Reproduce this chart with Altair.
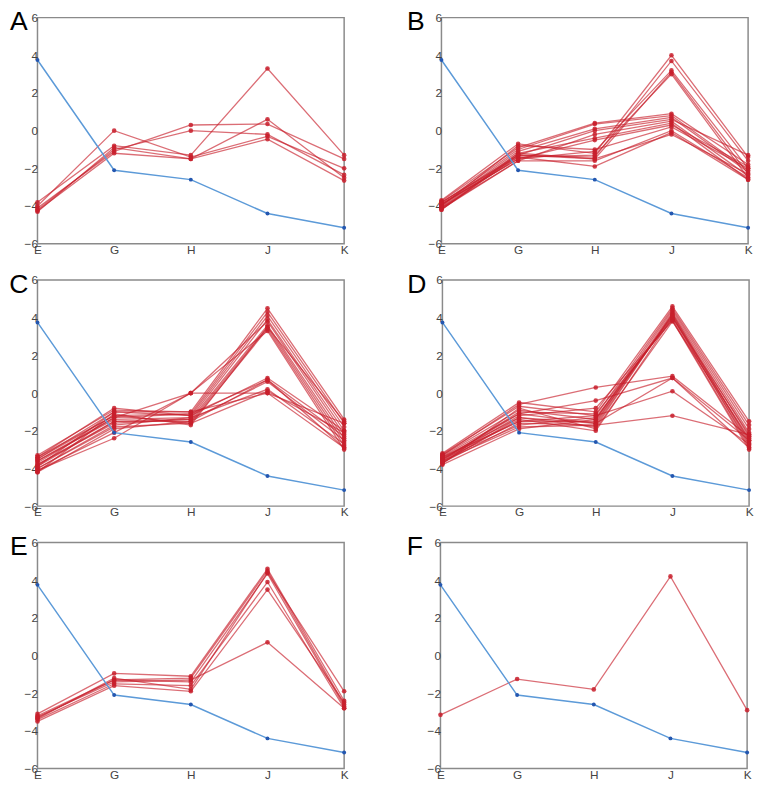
import altair as alt
import pandas as pd

cats = ["E", "G", "H", "J", "K"]
blue = [3.75, -2.1, -2.6, -4.4, -5.15]

panel_A = [
    [-3.8, -0.8, -1.3, 3.3, -1.3],
    [-4.0, 0.0, -1.4, -0.3, -2.0],
    [-4.1, -1.1, 0.3, 0.35, -1.5],
    [-4.2, -1.0, 0.0, -0.2, -2.35],
    [-4.3, -0.9, -1.5, 0.6, -2.5],
    [-4.25, -1.2, -1.5, -0.45, -2.65],
]
panel_B = [
    [-3.7, -0.7, -1.2, 4.0, -1.4],
    [-3.8, -1.3, -1.4, 3.7, -1.6],
    [-3.9, -1.5, -1.1, 3.2, -2.0],
    [-4.0, -1.2, -1.5, 3.1, -2.3],
    [-4.1, -1.4, -1.3, 3.0, -2.5],
    [-3.75, -0.9, 0.4, 0.9, -1.8],
    [-3.85, -1.0, 0.35, 0.8, -2.1],
    [-3.95, -1.1, 0.1, 0.7, -2.2],
    [-4.05, -1.3, 0.0, 0.6, -1.3],
    [-4.15, -1.6, -0.2, 0.5, -2.4],
    [-4.2, -1.2, -0.4, 0.4, -2.6],
    [-3.9, -1.5, -0.5, 0.3, -1.9],
    [-4.0, -0.8, -1.0, 0.2, -2.0],
    [-4.1, -1.6, -1.6, 0.0, -2.5],
    [-3.8, -1.4, -1.9, -0.1, -2.6],
    [-4.2, -1.3, -1.5, -0.2, -2.3],
]
panel_C = [
    [-3.3, -0.9, -1.0, 4.5, -1.4],
    [-3.4, -1.2, -1.1, 4.3, -1.6],
    [-3.5, -1.0, -1.2, 4.1, -1.8],
    [-3.6, -1.4, -1.3, 3.9, -2.0],
    [-3.7, -1.3, 0.0, 3.8, -2.2],
    [-3.8, -1.6, -1.4, 3.6, -2.4],
    [-3.9, -1.5, -1.5, 3.5, -2.6],
    [-4.0, -1.8, -1.6, 3.4, -2.8],
    [-4.1, -2.4, 0.0, 3.3, -3.0],
    [-4.2, -1.1, -1.7, 3.5, -1.5],
    [-3.4, -0.8, -1.2, 0.8, -2.0],
    [-3.6, -1.3, -1.1, 0.7, -2.3],
    [-3.8, -1.5, -1.4, 0.6, -2.5],
    [-4.0, -1.7, -1.3, 0.2, -2.7],
    [-4.1, -2.1, 0.0, 0.0, -2.9],
    [-3.5, -1.2, -1.6, 0.1, -2.1],
    [-3.9, -1.0, -1.0, 0.0, -1.6],
    [-4.2, -1.9, -1.5, 0.7, -2.9],
]
panel_D = [
    [-3.2, -0.5, -1.0, 4.6, -1.5],
    [-3.25, -0.7, -1.2, 4.5, -1.7],
    [-3.3, -0.9, -1.4, 4.4, -1.9],
    [-3.35, -1.1, -1.6, 4.3, -2.1],
    [-3.4, -1.3, -1.8, 4.2, -2.3],
    [-3.45, -1.5, -1.5, 4.1, -2.5],
    [-3.5, -1.7, -1.3, 4.0, -2.7],
    [-3.55, -1.0, -1.1, 3.9, -2.9],
    [-3.6, -1.2, -0.8, 3.85, -3.0],
    [-3.65, -1.4, -2.0, 4.0, -2.2],
    [-3.7, -1.6, -1.7, 4.2, -2.6],
    [-3.75, -0.8, -1.9, 3.8, -2.4],
    [-3.8, -1.9, -1.4, 4.1, -2.8],
    [-3.3, -0.6, 0.3, 0.9, -2.3],
    [-3.5, -1.1, -0.4, 0.8, -2.9],
    [-3.7, -1.3, -1.6, 0.8, -2.5],
    [-3.4, -1.5, -1.2, 0.1, -2.7],
    [-3.6, -1.8, -1.7, -1.2, -2.2],
]
panel_E = [
    [-3.1, -0.95, -1.1, 4.6, -2.4],
    [-3.2, -1.3, -1.2, 4.5, -2.6],
    [-3.3, -1.3, -1.4, 4.35, -2.7],
    [-3.4, -1.5, -1.6, 3.9, -2.8],
    [-3.5, -1.6, -1.9, 3.5, -2.5],
    [-3.35, -1.2, -1.8, 4.4, -1.9],
    [-3.25, -1.4, -1.3, 0.7, -2.8],
]
panel_F = [
    [-3.15, -1.25, -1.8, 4.2, -2.9],
]

panels = [("A", panel_A), ("B", panel_B), ("C", panel_C),
          ("D", panel_D), ("E", panel_E), ("F", panel_F)]

RED = "#c81e2b"
BLUE_LINE = "#5c9ad8"
BLUE_PT = "#2457b0"

x_enc = alt.X("cat:O", sort=cats,
              scale=alt.Scale(type="point", padding=0, domain=cats),
              axis=alt.Axis(title=None, labelAngle=0, ticks=False, domain=False,
                            labelColor="#444", labelFontSize=12, labelPadding=1,
                            labelFont="Liberation Sans"))
y_enc = alt.Y("val:Q", scale=alt.Scale(domain=[-6, 6], nice=False, zero=False),
              axis=alt.Axis(title=None, values=[-6, -4, -2, 0, 2, 4, 6], grid=False,
                            ticks=False, domain=False, labelColor="#444",
                            labelFontSize=12, labelPadding=0,
                            labelFont="Liberation Sans"))


def make_panel(letter, series, lx):
    rows = []
    for i, s in enumerate(series):
        for c, v in zip(cats, s):
            rows.append({"sid": i, "cat": c, "val": v})
    red_df = pd.DataFrame(rows)
    blue_df = pd.DataFrame({"cat": cats, "val": blue})

    red_line = alt.Chart(red_df).mark_line(color=RED, strokeWidth=1.3, opacity=0.65).encode(
        x=x_enc, y=y_enc, detail="sid:N")
    red_pts = alt.Chart(red_df).mark_circle(color=RED, size=22, opacity=0.85).encode(
        x=x_enc, y=y_enc)
    blue_line = alt.Chart(blue_df).mark_line(color=BLUE_LINE, strokeWidth=1.5).encode(
        x=x_enc, y=y_enc)
    blue_pts = alt.Chart(blue_df).mark_circle(color=BLUE_PT, size=16, opacity=1).encode(
        x=x_enc, y=y_enc)
    lab = alt.Chart(pd.DataFrame({"t": [letter]})).mark_text(
        fontSize=27, font="Liberation Sans", align="center", baseline="alphabetic",
        color="black").encode(x=alt.value(lx), y=alt.value(13), text="t:N")
    return alt.layer(red_line, red_pts, blue_line, blue_pts, lab).properties(
        width=312, height=230)


charts = [make_panel(l, s, -19 if k % 2 == 0 else -26) for k, (l, s) in enumerate(panels)]
rows = [alt.hconcat(charts[i], charts[i + 1], spacing=58) for i in (0, 2, 4)]
chart = alt.vconcat(*rows, spacing=14).properties(
    padding={"left": 0, "top": -7, "right": 0, "bottom": 0}
).configure_view(stroke="#8a8a8a", strokeWidth=1.5)

chart.save("out.html", embed_options={"renderer": "svg", "actions": False})
